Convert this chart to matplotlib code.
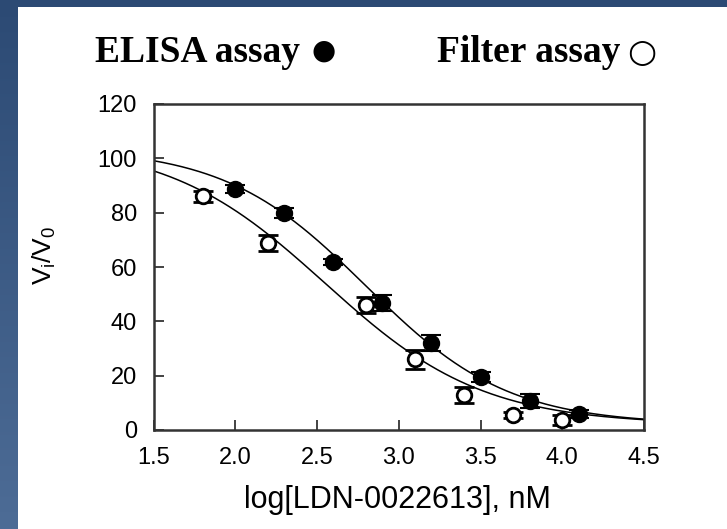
import numpy as np
import matplotlib
matplotlib.use("Agg")
import matplotlib.pyplot as plt
from matplotlib.patches import Rectangle

plt.rcParams['font.family'] = ['Liberation Sans', 'DejaVu Sans']
plt.rcParams['mathtext.fontset'] = 'custom'
plt.rcParams['mathtext.rm'] = 'Liberation Sans'
plt.rcParams['mathtext.it'] = 'Liberation Sans'

# ---- data ----
elisa_x = [2.0, 2.3, 2.6, 2.9, 3.2, 3.5, 3.8, 4.1]
elisa_y = [88.7, 79.9, 61.8, 46.7, 32.0, 19.5, 10.7, 5.9]
elisa_err = [1.5, 2.0, 1.0, 3.0, 3.0, 2.0, 2.5, 1.5]

filter_x = [1.8, 2.2, 2.8, 3.1, 3.4, 3.7, 4.0]
filter_y = [86.1, 68.8, 46.0, 26.0, 12.9, 5.5, 3.7]
filter_err = [2.0, 3.0, 3.0, 3.5, 3.0, 1.0, 2.0]

# fitted 4-parameter logistic curves: top, bottom, logIC50, hill
elisa_fit = (104.0, 2.0, 2.80, 1.0)
filter_fit = (106.0, 2.0, 2.55, 0.9)

x_ticks = [1.5, 2.0, 2.5, 3.0, 3.5, 4.0, 4.5]
y_ticks = [0, 20, 40, 60, 80, 100, 120]


def logistic(x, p):
    top, bottom, c, h = p
    return bottom + (top - bottom) / (1 + 10 ** ((x - c) * h))


W, H = 727, 529
fig = plt.figure(figsize=(W / 100, H / 100), dpi=100)

# background gradient
bg = fig.add_axes([0, 0, 1, 1], zorder=-10)
grad = np.linspace(0, 1, 256).reshape(-1, 1)
top_c = np.array([0x2c, 0x4a, 0x74]) / 255
bot_c = np.array([0x4d, 0x6c, 0x96]) / 255
img = top_c[None, None, :] * (1 - grad[:, :, None]) + bot_c[None, None, :] * grad[:, :, None]
bg.imshow(img, aspect='auto', extent=[0, 1, 0, 1], origin='upper')
bg.add_patch(Rectangle((18 / W, 0), 1 - 18 / W, 1 - 7 / H, facecolor='white', edgecolor='none'))
bg.set_xlim(0, 1)
bg.set_ylim(0, 1)
bg.axis('off')

ax = fig.add_axes([153.5 / W, 1 - 430 / H, (644 - 153.5) / W, (430 - 104) / H])

xs = np.linspace(1.5, 4.5, 400)
ax.plot(xs, logistic(xs, elisa_fit), color='black', lw=1.1, zorder=2)
ax.plot(xs, logistic(xs, filter_fit), color='black', lw=1.1, zorder=2)

ax.errorbar(filter_x, filter_y, yerr=filter_err, fmt='o', ms=10.5, mfc='white', mec='black',
            mew=2.0, ecolor='black', elinewidth=1.5, capsize=7, capthick=1.5, zorder=3)
ax.errorbar(elisa_x, elisa_y, yerr=elisa_err, fmt='o', ms=11.5, mfc='black', mec='black',
            ecolor='black', elinewidth=1.5, capsize=7, capthick=1.5, zorder=4)

ax.set_xlim(1.5, 4.5)
ax.set_ylim(0, 120)
ax.set_xticks(x_ticks)
ax.set_xticklabels([f"{t:.1f}" for t in x_ticks])
ax.set_yticks(y_ticks)
ax.set_yticklabels([str(t) for t in y_ticks])
ax.tick_params(direction='in', length=7, width=1.2, labelsize=17, color='#222222', pad=12)
for s in ax.spines.values():
    s.set_linewidth(1.8)
    s.set_color('#333333')

fig.text(397 / W, 1 - 500 / H, 'log[LDN-0022613], nM', ha='center', va='center', fontsize=22)
fig.text(44 / W, 1 - 255 / H, r'$\mathrm{V_i/V_0}$', ha='center', va='center', rotation=90, fontsize=19)

fig.text(95 / W, 1 - 53 / H, 'ELISA assay', ha='left', va='center', fontsize=27,
         fontweight='bold', family='Liberation Serif')
fig.text(324 / W, 1 - 51 / H, '●', ha='center', va='center', fontsize=20, family='DejaVu Sans')
fig.text(437 / W, 1 - 53 / H, 'Filter assay', ha='left', va='center', fontsize=27,
         fontweight='bold', family='Liberation Serif')
fig.text(642 / W, 1 - 53 / H, '○', ha='center', va='center', fontsize=24, family='DejaVu Sans',
         fontweight='bold')

fig.savefig('out.png', dpi=100)
